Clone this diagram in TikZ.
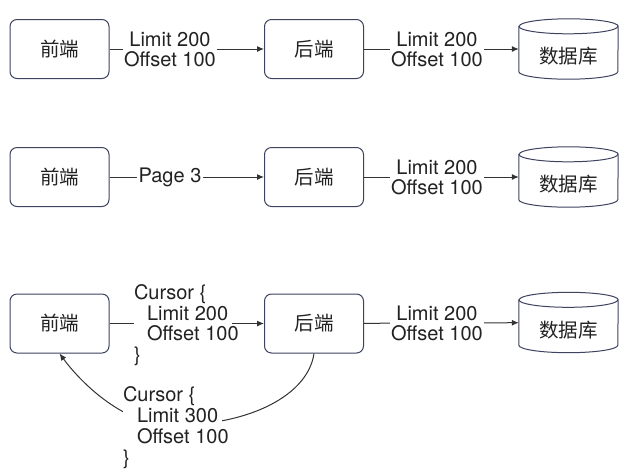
\documentclass[tikz,border=0pt]{standalone}
\usepackage{fontspec}
\setmainfont{TeX Gyre Heros}
\newfontfamily\cjk{Noto Sans CJK SC}
\usetikzlibrary{arrows.meta}
\definecolor{boxc}{HTML}{3E4360}
\definecolor{linec}{HTML}{333333}
\definecolor{txtc}{HTML}{222222}
\newcommand\dbcyl[1]{%
  \draw[draw=boxc, line width=1pt, fill=white]
    ([yshift=-7.5pt]#1.north west) -- ([yshift=7.5pt]#1.south west)
    arc[start angle=180, end angle=360, x radius=49.5pt, y radius=7.5pt]
    -- ([yshift=-7.5pt]#1.north east)
    arc[start angle=0, end angle=180, x radius=49.5pt, y radius=7.5pt] -- cycle;
  \draw[draw=boxc, line width=1pt] ([yshift=-7.5pt]#1.north west)
    arc[start angle=180, end angle=360, x radius=49.5pt, y radius=7.5pt];
}
\begin{document}
\begin{tikzpicture}[x=1pt,y=-1pt,
  boxn/.style={draw=boxc, line width=1pt, rounded corners=7pt, minimum width=99pt, minimum height=59pt, inner sep=0pt, font=\cjk\fontsize{19.5}{20}\selectfont, text=txtc},
  dbn/.style={minimum width=99pt, minimum height=60pt, inner sep=0pt},
  dbt/.style={inner sep=0pt, font=\cjk\fontsize{19.5}{20}\selectfont, text=txtc},
  conn/.style={draw=linec, line width=1pt, -{Latex[length=7pt,width=6pt]}},
  lbl/.style={fill=white, inner xsep=1.5pt, inner ysep=1pt, align=center, font=\fontsize{20}{20}\selectfont, text=txtc},
  clbl/.style={fill=white, inner sep=0pt, font=\fontsize{20}{20}\selectfont, text=txtc}
]
\useasboundingbox[fill=white] (0,0) rectangle (634,475);
% row 1
\node[boxn] (f1) at (59.5,49) {前端};
\node[boxn] (b1) at (314,49) {后端};
\node[dbn] (d1) at (568.5,49) {};
\dbcyl{d1}
\node[dbt] (d1t) at ([yshift=-7.5pt]d1.center) {数据库};
\draw[conn] (f1) -- (b1);
\draw[conn] (b1) -- (d1);
\node[lbl] (l1a) at (170,49) {Limit 200\\Offset 100};
\node[lbl] (l1b) at (437,49) {Limit 200\\Offset 100};
% row 2
\node[boxn] (f2) at (59.5,177) {前端};
\node[boxn] (b2) at (314,177) {后端};
\node[dbn] (d2) at (568.5,177) {};
\dbcyl{d2}
\node[dbt] (d2t) at ([yshift=-7.5pt]d2.center) {数据库};
\draw[conn] (f2) -- (b2);
\draw[conn] (b2) -- (d2);
\node[lbl] (l2a) at (170,177) {Page 3};
\node[lbl] (l2b) at (437,177) {Limit 200\\Offset 100};
% row 3
\node[boxn] (f3) at (59.5,323.5) {前端};
\node[boxn] (b3) at (314,323.5) {后端};
\node[dbn] (d3) at (568.5,322.5) {};
\dbcyl{d3}
\node[dbt] (d3t) at ([yshift=-7.5pt]d3.center) {数据库};
\draw[conn] (f3) -- (b3);
\draw[conn] (b3) -- (d3);
\draw[conn] (b3.south) .. controls (308,395) and (250,425) .. (175,425)
  .. controls (130,428) and (85,388) .. (f3.south);
\node[clbl] (l3a) at (183,326) {\makebox[98pt][l]{\begin{tabular}{@{}l@{}}Cursor \{\\\hspace*{13pt}Limit 200\\\hspace*{13pt}Offset 100\\\}\end{tabular}}};
\node[lbl] (l3b) at (437,323) {Limit 200\\Offset 100};
\node[clbl, font=\fontsize{20}{21}\selectfont] (l4) at (172.5,429) {\makebox[99pt][l]{\begin{tabular}{@{}l@{}}Cursor \{\\\hspace*{14pt}Limit 300\\\hspace*{14pt}Offset 100\\\}\end{tabular}}};
\end{tikzpicture}
\end{document}
